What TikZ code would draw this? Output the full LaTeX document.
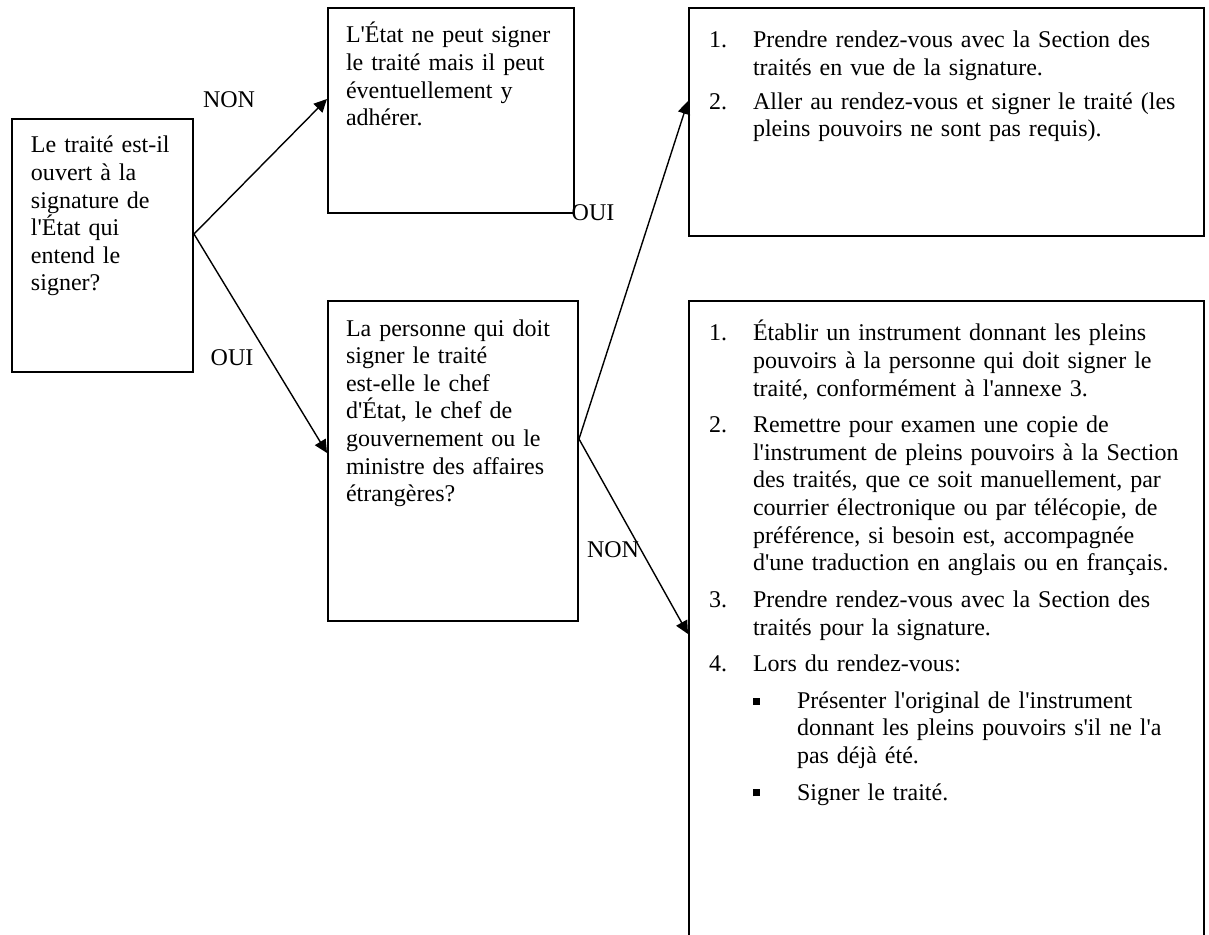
\documentclass[tikz,border=0pt]{standalone}
\usepackage{fontspec}
\setmainfont{Liberation Serif}[Ligatures=TeXOff]
\usetikzlibrary{arrows.meta}

\newcommand{\etape}[2]{\noindent\hangindent=22pt\hangafter=1\makebox[22pt][l]{#1}#2\par}
\newcommand{\puce}[1]{\noindent\hangindent=44pt\hangafter=1\hspace*{22pt}\makebox[22pt][l]{\rule[1.8pt]{3.5pt}{3.5pt}}#1\par}

\begin{document}
\begin{tikzpicture}[
    x=0.5pt, y=-0.5pt,
    box/.style={rectangle, draw, line width=1pt, anchor=north west, align=left, inner ysep=0pt, font=\fontsize{12pt}{13.8pt}\selectfont},
    liste/.style={rectangle, draw, line width=1pt, anchor=north west, inner ysep=0pt, inner xsep=10pt, text width=237.5pt, text height=20pt, font=\fontsize{12pt}{13.8pt}\selectfont},
    line/.style={draw, line width=0.7pt, -{Triangle[length=6.5pt, width=6.2pt]}},
    lbl/.style={font=\fontsize{12pt}{13.8pt}\selectfont, inner sep=0pt}
]
\useasboundingbox (0,0) rectangle (1209,935);

% Questions
\node[box, text width=71.5pt, inner xsep=9.5pt, text height=17pt, text depth=109.5pt] (q1) at (11,118) {Le traité est-il\\ouvert à la\\signature de\\l'État qui\\entend le\\signer?};
\node[box, text width=107pt, inner xsep=9pt, text height=17.5pt, text depth=142.5pt] (q2) at (327,300) {La personne qui doit\\signer le traité\\est-elle le chef\\d'État, le chef de\\gouvernement ou le\\ministre des affaires\\étrangères?};

% Réponses
\node[box, text width=105pt, inner xsep=9pt, text height=17.5pt, text depth=85pt] (refus) at (327,7) {L'État ne peut signer\\le traité mais il peut\\éventuellement y\\adhérer.};
\node[liste, text depth=94pt] (sanspp) at (688,7) {\setlength{\parskip}{3pt}%
\etape{1.}{Prendre rendez-vous avec la Section des\newline traités en vue de la signature.}
\etape{2.}{Aller au rendez-vous et signer le traité (les\newline pleins pouvoirs ne sont pas requis).}};
\node[liste, text depth=305pt] (avecpp) at (688,300) {\setlength{\parskip}{4.5pt}%
\etape{1.}{Établir un instrument donnant les pleins\newline pouvoirs à la personne qui doit signer le\newline traité, conformément à l'annexe 3.}
\etape{2.}{Remettre pour examen une copie de\newline l'instrument de pleins pouvoirs à la Section\newline des traités, que ce soit manuellement, par\newline courrier électronique ou par télécopie, de\newline préférence, si besoin est, accompagnée\newline d'une traduction en anglais ou en français.}
\etape{3.}{Prendre rendez-vous avec la Section des\newline traités pour la signature.}
\etape{4.}{Lors du rendez-vous:}
\puce{Présenter l'original de l'instrument\newline donnant les pleins pouvoirs s'il ne l'a\newline pas déjà été.}
\puce{Signer le traité.}};

% Connexions
\path[line] ([yshift=5.75pt]q1.east) -- ([yshift=5.75pt]refus.west);
\path[line] ([yshift=5.75pt]q1.east) -- ([yshift=4pt]q2.west);
\path[line] ([yshift=11pt]q2.east) -- ([yshift=10.5pt]sanspp.west);
\path[line] ([yshift=11pt]q2.east) -- ([yshift=-4pt]avecpp.west);

% Etiquettes
\node[lbl] (non1) at (229,100) {NON};
\node[lbl] (oui1) at (232,358) {OUI};
\node[lbl] (oui2) at (593,213) {OUI};
\node[lbl] (non2) at (613,550) {NON};

\end{tikzpicture}
\end{document}
